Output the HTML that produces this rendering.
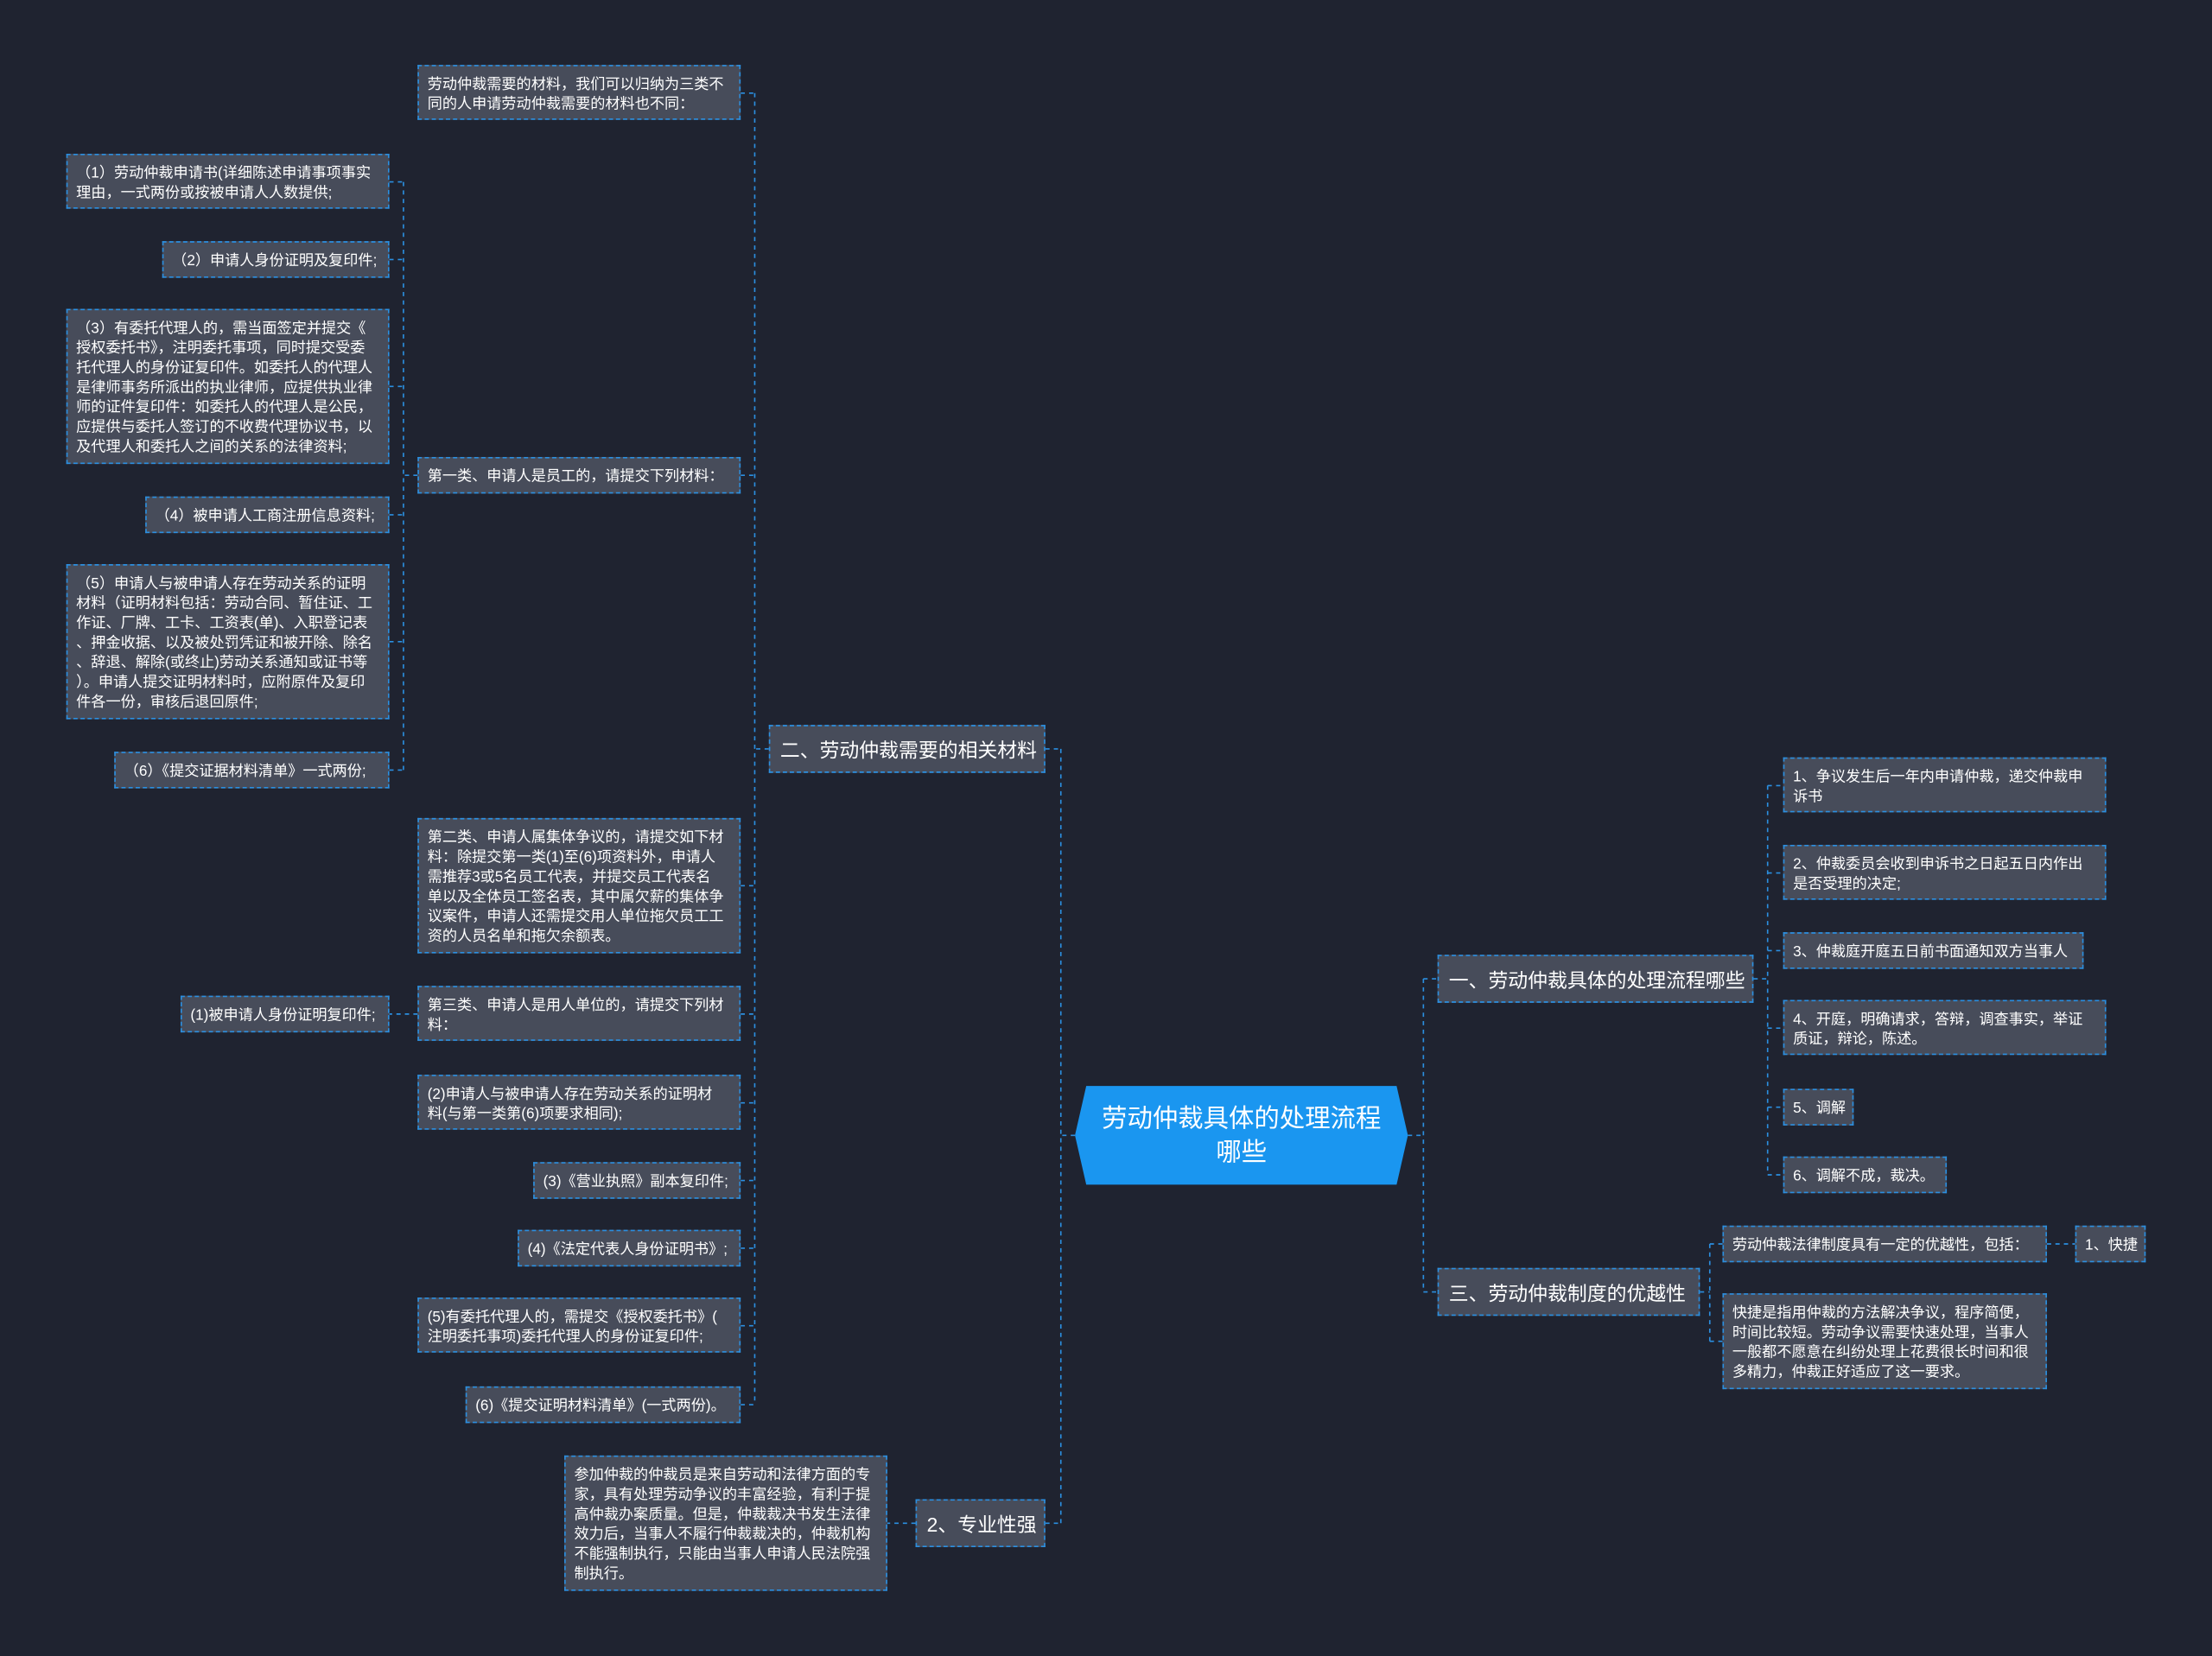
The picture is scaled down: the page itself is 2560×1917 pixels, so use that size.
<!DOCTYPE html>
<html><head><meta charset="utf-8"><style>
html,body{margin:0;padding:0;background:#1f2330;width:2560px;height:1916px;overflow:hidden}
#w{position:absolute;left:0;top:0;width:1568px;height:1174px;transform:scale(1.63265);transform-origin:0 0;background:#1f2330}
.n{position:absolute;box-sizing:border-box;background:#474c5a;border:1px dashed #2b8fe0;color:#fff;font-family:"Liberation Sans","Noto Sans CJK SC",sans-serif;font-size:10.5px;line-height:14px;padding:6px 6px 4px;white-space:nowrap;overflow:hidden}
.l1{font-size:14px;line-height:22px;padding:6px 7px 4px}
svg{position:absolute;left:0;top:0}
</style></head><body><div id="w">
<svg width="1568" height="1174"><g stroke="#2b8fe0" stroke-width="1" stroke-dasharray="3 3" fill="none">
<path d="M762 805H752M752 531V1080M741 531H752M741 1080H752"/>
<path d="M545 531H535M535 66V996"/>
<path d="M525 66H535M525 337H535M525 628H535M525 719H535M525 782H535M525 837H535M525 885H535M525 940H535M525 996H535"/>
<path d="M296 337H286M286 129V546M276 129H286M276 184H286M276 274H286M276 365H286M276 455H286M276 546H286"/>
<path d="M296 719H276"/>
<path d="M649 1080H629"/>
<path d="M998 805H1009M1009 694V916M1009 694H1019M1009 916H1019"/>
<path d="M1243 694H1253M1253 557V833M1253 557H1264M1253 619H1264M1253 674H1264M1253 729H1264M1253 785H1264M1253 833H1264"/>
<path d="M1205 916H1212M1212 882V951M1212 882H1221M1212 951H1221"/>
<path d="M1451 882H1471"/>
</g>
<polygon points="770,770 990,770 998,805 990,840 770,840 762,805" fill="#1a96f0"/>
</svg>
<div style="position:absolute;left:762px;top:781px;width:236px;text-align:center;color:#fff;font-family:'Liberation Sans','Noto Sans CJK SC',sans-serif;font-size:18px;line-height:24px">劳动仲裁具体的处理流程<br>哪些</div>

<div class="n" style="left:296px;top:46px;width:229px;height:39px">劳动仲裁需要的材料，我们可以归纳为三类不<br>同的人申请劳动仲裁需要的材料也不同：</div>
<div class="n" style="left:47px;top:109px;width:229px;height:39px">（1）劳动仲裁申请书(详细陈述申请事项事实<br>理由，一式两份或按被申请人人数提供;</div>
<div class="n" style="left:115px;top:171px;width:161px;height:26px">（2）申请人身份证明及复印件;</div>
<div class="n" style="left:47px;top:219px;width:229px;height:110px">（3）有委托代理人的，需当面签定并提交《<br>授权委托书》，注明委托事项，同时提交受委<br>托代理人的身份证复印件。如委托人的代理人<br>是律师事务所派出的执业律师，应提供执业律<br>师的证件复印件：如委托人的代理人是公民，<br>应提供与委托人签订的不收费代理协议书，以<br>及代理人和委托人之间的关系的法律资料;</div>
<div class="n" style="left:103px;top:352px;width:173px;height:26px">（4）被申请人工商注册信息资料;</div>
<div class="n" style="left:47px;top:400px;width:229px;height:110px">（5）申请人与被申请人存在劳动关系的证明<br>材料（证明材料包括：劳动合同、暂住证、工<br>作证、厂牌、工卡、工资表(单)、入职登记表<br>、押金收据、以及被处罚凭证和被开除、除名<br>、辞退、解除(或终止)劳动关系通知或证书等<br>）。申请人提交证明材料时，应附原件及复印<br>件各一份，审核后退回原件;</div>
<div class="n" style="left:81px;top:533px;width:195px;height:26px">（6）《提交证据材料清单》一式两份;</div>
<div class="n" style="left:296px;top:324px;width:229px;height:26px">第一类、申请人是员工的，请提交下列材料：</div>
<div class="n" style="left:296px;top:580px;width:229px;height:96px">第二类、申请人属集体争议的，请提交如下材<br>料：除提交第一类(1)至(6)项资料外，申请人<br>需推荐3或5名员工代表，并提交员工代表名<br>单以及全体员工签名表，其中属欠薪的集体争<br>议案件，申请人还需提交用人单位拖欠员工工<br>资的人员名单和拖欠余额表。</div>
<div class="n" style="left:296px;top:699px;width:229px;height:39px">第三类、申请人是用人单位的，请提交下列材<br>料：</div>
<div class="n" style="left:128px;top:706px;width:148px;height:26px">(1)被申请人身份证明复印件;</div>
<div class="n" style="left:296px;top:762px;width:229px;height:39px">(2)申请人与被申请人存在劳动关系的证明材<br>料(与第一类第(6)项要求相同);</div>
<div class="n" style="left:378px;top:824px;width:147px;height:26px">(3)《营业执照》副本复印件;</div>
<div class="n" style="left:367px;top:872px;width:158px;height:26px">(4)《法定代表人身份证明书》;</div>
<div class="n" style="left:296px;top:920px;width:229px;height:39px">(5)有委托代理人的，需提交《授权委托书》(<br>注明委托事项)委托代理人的身份证复印件;</div>
<div class="n" style="left:330px;top:983px;width:195px;height:26px">(6)《提交证明材料清单》(一式两份)。</div>
<div class="n l1" style="left:545px;top:514px;width:196px;height:34px">二、劳动仲裁需要的相关材料</div>
<div class="n l1" style="left:649px;top:1063px;width:92px;height:34px">2、专业性强</div>
<div class="n" style="left:400px;top:1032px;width:229px;height:96px">参加仲裁的仲裁员是来自劳动和法律方面的专<br>家，具有处理劳动争议的丰富经验，有利于提<br>高仲裁办案质量。但是，仲裁裁决书发生法律<br>效力后，当事人不履行仲裁裁决的，仲裁机构<br>不能强制执行，只能由当事人申请人民法院强<br>制执行。</div>
<div class="n l1" style="left:1019px;top:677px;width:224px;height:34px">一、劳动仲裁具体的处理流程哪些</div>
<div class="n l1" style="left:1019px;top:899px;width:186px;height:34px">三、劳动仲裁制度的优越性</div>
<div class="n" style="left:1264px;top:537px;width:229px;height:39px">1、争议发生后一年内申请仲裁，递交仲裁申<br>诉书</div>
<div class="n" style="left:1264px;top:599px;width:229px;height:39px">2、仲裁委员会收到申诉书之日起五日内作出<br>是否受理的决定;</div>
<div class="n" style="left:1264px;top:661px;width:213px;height:26px">3、仲裁庭开庭五日前书面通知双方当事人</div>
<div class="n" style="left:1264px;top:709px;width:229px;height:39px">4、开庭，明确请求，答辩，调查事实，举证<br>质证，辩论，陈述。</div>
<div class="n" style="left:1264px;top:772px;width:50px;height:26px">5、调解</div>
<div class="n" style="left:1264px;top:820px;width:116px;height:26px">6、调解不成，裁决。</div>
<div class="n" style="left:1221px;top:869px;width:230px;height:26px">劳动仲裁法律制度具有一定的优越性，包括：</div>
<div class="n" style="left:1471px;top:869px;width:50px;height:26px">1、快捷</div>
<div class="n" style="left:1221px;top:917px;width:230px;height:68px">快捷是指用仲裁的方法解决争议，程序简便，<br>时间比较短。劳动争议需要快速处理，当事人<br>一般都不愿意在纠纷处理上花费很长时间和很<br>多精力，仲裁正好适应了这一要求。</div>
</div></body></html>
